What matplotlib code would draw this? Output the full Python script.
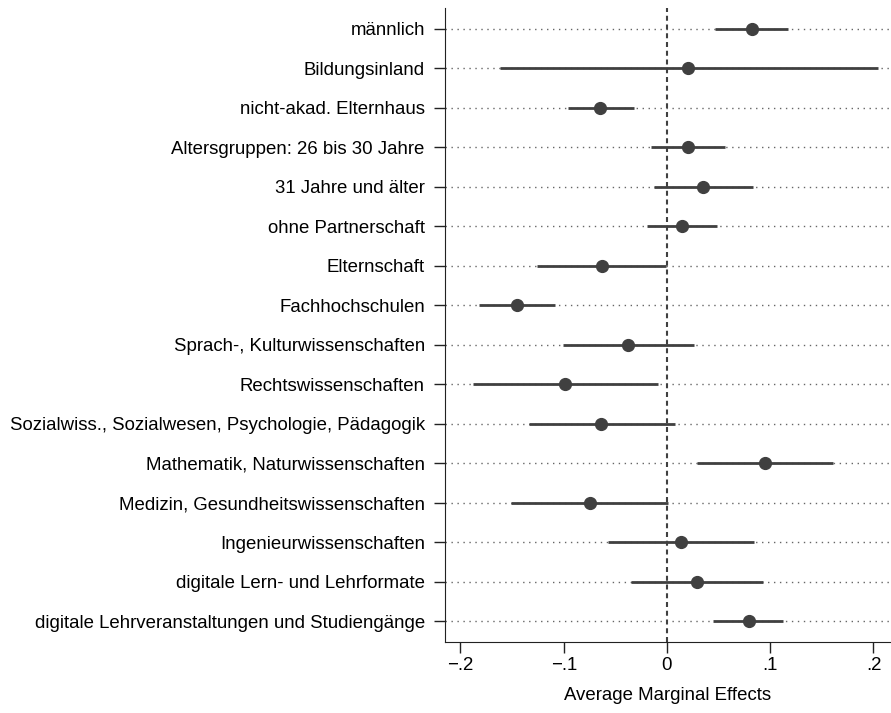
import numpy as np
import matplotlib.pyplot as plt

plt.rcParams['font.family'] = ['Liberation Sans', 'DejaVu Sans']

labels = [
    "männlich",
    "Bildungsinland",
    "nicht-akad. Elternhaus",
    "Altersgruppen: 26 bis 30 Jahre",
    "31 Jahre und älter",
    "ohne Partnerschaft",
    "Elternschaft",
    "Fachhochschulen",
    "Sprach-, Kulturwissenschaften",
    "Rechtswissenschaften",
    "Sozialwiss., Sozialwesen, Psychologie, Pädagogik",
    "Mathematik, Naturwissenschaften",
    "Medizin, Gesundheitswissenschaften",
    "Ingenieurwissenschaften",
    "digitale Lern- und Lehrformate",
    "digitale Lehrveranstaltungen und Studiengänge",
]
ame = [0.082, 0.020, -0.065, 0.020, 0.035, 0.015, -0.063, -0.145,
       -0.038, -0.099, -0.064, 0.095, -0.075, 0.014, 0.029, 0.079]
ci_lo = [0.047, -0.162, -0.096, -0.015, -0.013, -0.019, -0.126, -0.182,
         -0.101, -0.188, -0.134, 0.029, -0.151, -0.057, -0.035, 0.045]
ci_hi = [0.117, 0.204, -0.032, 0.056, 0.083, 0.048, -0.001, -0.108,
         0.026, -0.009, 0.008, 0.161, 0.001, 0.084, 0.093, 0.112]

xticks = [-0.2, -0.1, 0, 0.1, 0.2]
xticklabels = ["\u2212.2", "\u2212.1", "0", ".1", ".2"]

col = '#404040'
y = np.arange(1, len(labels) + 1)

fig = plt.figure(figsize=(8.91, 7.13), dpi=100)
ax = fig.add_axes([0.4994, 0.0996, 0.5006, 0.8894])

# dotted row guides
for yi in y:
    ax.axhline(yi, color='#666666', linestyle=(0, (1, 3.3)), linewidth=1, zorder=1)
ax.axvline(0, color=col, linestyle=(0, (2.4, 1.8)), linewidth=1.5, zorder=2)

ax.hlines(y, ci_lo, ci_hi, color=col, linewidth=2, zorder=3)
ax.plot(ame, y, 'o', color=col, markersize=8.5, zorder=4)

ax.set_xlim(-0.215, 0.217)
ax.set_ylim(16.53, 0.47)
ax.set_yticks(y)
ax.set_yticklabels(labels, fontsize=13.45)
ax.set_xticks(xticks)
ax.set_xticklabels(xticklabels, fontsize=13.45)
ax.tick_params(axis='both', length=8, width=1, color='#222222')
ax.tick_params(axis='y', pad=6.5)
ax.tick_params(axis='x', pad=3)
ax.set_xlabel("Average Marginal Effects", fontsize=13.45, labelpad=9)

ax.spines['top'].set_visible(False)
ax.spines['right'].set_visible(False)
ax.spines['left'].set_color('#222222')
ax.spines['bottom'].set_color('#222222')

fig.savefig('out.png', dpi=100)
